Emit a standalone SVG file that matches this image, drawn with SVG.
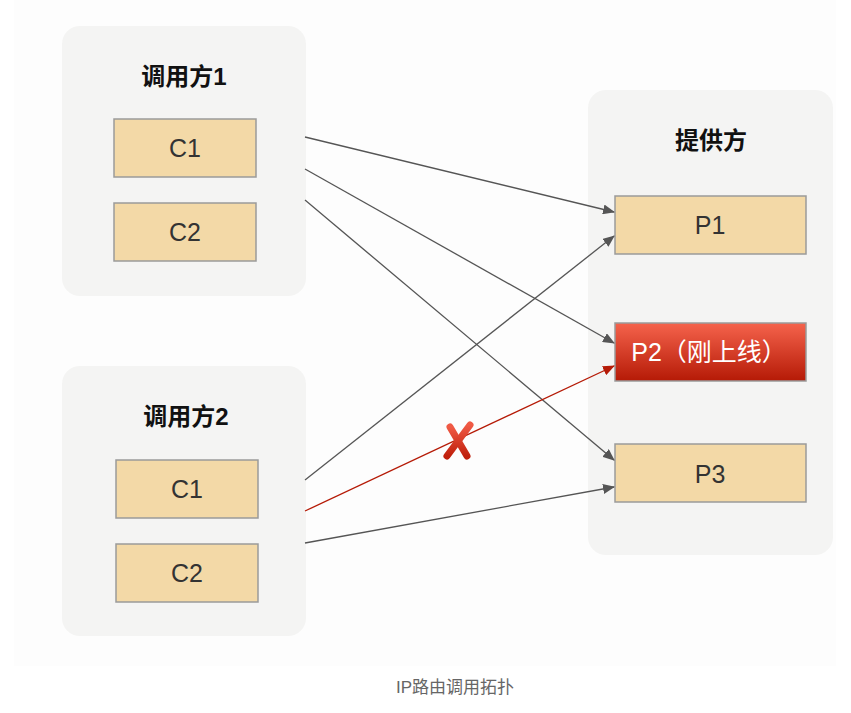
<svg xmlns="http://www.w3.org/2000/svg" width="851" height="713" viewBox="0 0 851 713">
<style>
.grp{fill:#f4f4f3}
.node{fill:#f3d9a7;stroke:#9a9a9a;stroke-width:1.5}
.title{font-family:"Liberation Sans","Noto Sans CJK SC",sans-serif;font-size:24px;font-weight:bold;fill:#111;text-anchor:middle}
.lbl{font-family:"Liberation Sans","Noto Sans CJK SC",sans-serif;font-size:25px;fill:#333;text-anchor:middle}
.edge{stroke:#555;stroke-width:1.3;fill:none}
</style>
<defs>
<linearGradient id="red" x1="0" y1="0" x2="0" y2="1">
<stop offset="0" stop-color="#f5634c"/>
<stop offset="1" stop-color="#b51a06"/>
</linearGradient>
<linearGradient id="xred" x1="0" y1="0" x2="0" y2="1">
<stop offset="0" stop-color="#f05a45"/>
<stop offset="1" stop-color="#c0200c"/>
</linearGradient>
<marker id="ah" markerWidth="12" markerHeight="10" refX="11" refY="5" orient="auto" markerUnits="userSpaceOnUse">
<path d="M0,0 L12,5 L0,10 Z" fill="#555"/>
</marker>
<marker id="ahr" markerWidth="12" markerHeight="10" refX="11" refY="5" orient="auto" markerUnits="userSpaceOnUse">
<path d="M0,0 L12,5 L0,10 Z" fill="#b51a06"/>
</marker>
</defs>
<rect x="0" y="0" width="851" height="713" fill="#fff"/>
<rect x="14" y="0" width="822" height="666" fill="#fdfdfd"/>

<g id="caller1">
<rect class="grp" x="62" y="26" width="244" height="270" rx="18"/>
<text class="title" x="184" y="85">调用方1</text>
</g>
<g id="c1a"><rect class="node" x="114" y="119" width="142" height="58"/><text class="lbl" x="185" y="157">C1</text></g>
<g id="c2a"><rect class="node" x="114" y="203" width="142" height="58"/><text class="lbl" x="185" y="241">C2</text></g>

<g id="caller2">
<rect class="grp" x="62" y="366" width="244" height="270" rx="18"/>
<text class="title" x="186" y="425">调用方2</text>
</g>
<g id="c1b"><rect class="node" x="116" y="460" width="142" height="58"/><text class="lbl" x="187" y="498">C1</text></g>
<g id="c2b"><rect class="node" x="116" y="544" width="142" height="58"/><text class="lbl" x="187" y="582">C2</text></g>

<g id="provider">
<rect class="grp" x="588" y="90" width="245" height="465" rx="18"/>
<text class="title" x="711" y="149">提供方</text>
</g>
<g id="p1"><rect class="node" x="615" y="196" width="191" height="58"/><text class="lbl" x="710" y="234">P1</text></g>
<g id="p2"><rect x="615" y="323" width="191" height="58" fill="url(#red)" stroke="#9a9a9a" stroke-width="1.5"/><text class="lbl" x="709" y="361" style="fill:#fff">P2（刚上线）</text></g>
<g id="p3"><rect class="node" x="615" y="444" width="191" height="58"/><text class="lbl" x="710" y="483">P3</text></g>

<g id="connectors">
<line class="edge" x1="305" y1="137" x2="614" y2="212" marker-end="url(#ah)"/>
<line class="edge" x1="305" y1="169" x2="614" y2="343" marker-end="url(#ah)"/>
<line class="edge" x1="305" y1="200" x2="614" y2="460" marker-end="url(#ah)"/>
<line class="edge" x1="305" y1="480" x2="614" y2="236" marker-end="url(#ah)"/>
<line x1="305" y1="511" x2="614" y2="366" stroke="#b51a06" stroke-width="1.3" marker-end="url(#ahr)"/>
<line class="edge" x1="305" y1="543" x2="614" y2="487" marker-end="url(#ah)"/>
</g>

<g id="cross">
<line x1="450" y1="427" x2="467" y2="456" stroke="url(#xred)" stroke-width="7" stroke-linecap="round"/>
<line x1="470" y1="425" x2="447" y2="456" stroke="url(#xred)" stroke-width="7" stroke-linecap="round"/>
</g>

<text x="455" y="693" font-family="Liberation Sans,'Noto Sans CJK SC',sans-serif" font-size="17" fill="#666" text-anchor="middle">IP路由调用拓扑</text>
</svg>
